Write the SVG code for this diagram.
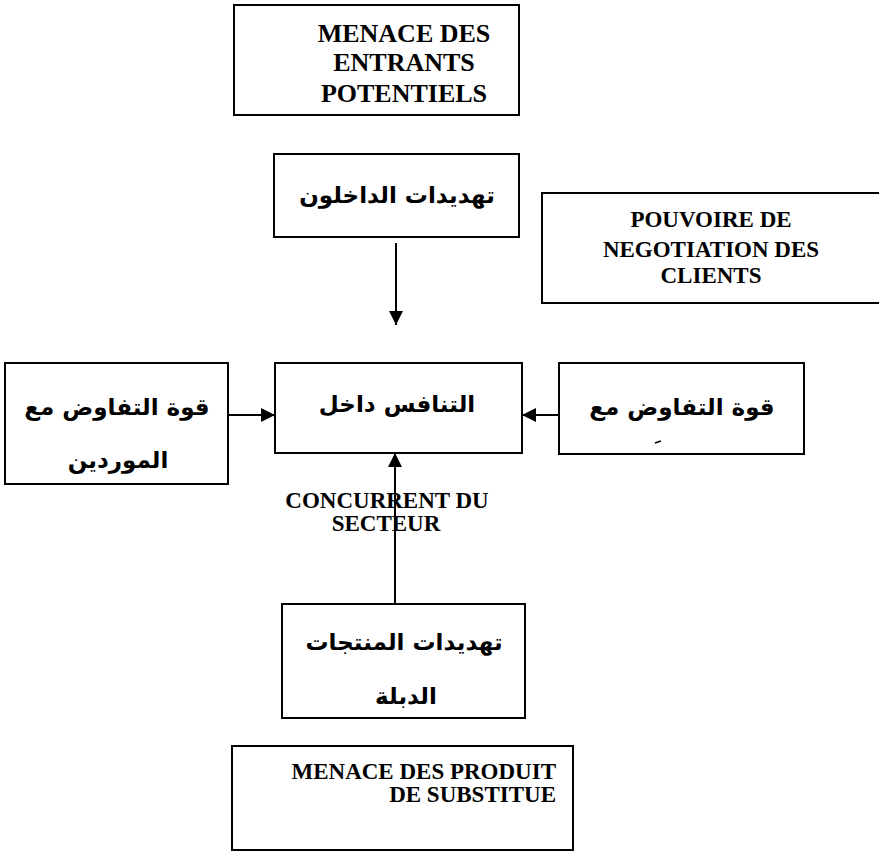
<svg xmlns="http://www.w3.org/2000/svg" width="879" height="854" viewBox="0 0 879 854">
<style>
.box{fill:#fff;stroke:#000;stroke-width:2}
.fr{font-family:"Liberation Serif","Times New Roman",serif;font-weight:bold;fill:#000}
.ar{font-family:"DejaVu Sans",sans-serif;font-weight:bold;fill:#000;text-anchor:middle;font-size:23px}
.ln{stroke:#000;stroke-width:2;fill:none}
</style>
<defs>
<marker id="ah" viewBox="0 0 14 14" refX="14" refY="7" markerWidth="14" markerHeight="14" markerUnits="userSpaceOnUse" orient="auto">
<path d="M0,0 L14,7 L0,14 Z" fill="#000"/>
</marker>
</defs>
<rect width="879" height="854" fill="#fff"/>
<g id="entrants">
<rect class="box" x="234" y="5" width="285" height="110"/>
<text class="fr" font-size="26" text-anchor="middle" x="404" y="42">MENACE DES</text>
<text class="fr" font-size="26" text-anchor="middle" x="404" y="71">ENTRANTS</text>
<text class="fr" font-size="26" text-anchor="middle" x="404" y="102">POTENTIELS</text>
</g>
<g id="dakhiloun">
<rect class="box" x="274" y="154" width="245" height="83"/>
<text class="ar" x="397" y="203">تهديدات الداخلون</text>
</g>
<g id="clients">
<rect class="box" x="542" y="193" width="350" height="110"/>
<text class="fr" font-size="23" text-anchor="middle" x="711" y="227">POUVOIRE DE</text>
<text class="fr" font-size="23" text-anchor="middle" x="711" y="257">NEGOTIATION DES</text>
<text class="fr" font-size="23" text-anchor="middle" x="711" y="283">CLIENTS</text>
</g>
<g id="fournisseurs">
<rect class="box" x="5" y="363" width="223" height="121"/>
<text class="ar" x="117" y="415">قوة التفاوض مع</text>
<text class="ar" x="118" y="468">الموردين</text>
</g>
<g id="concurrence">
<rect class="box" x="275" y="363" width="247" height="90"/>
<text class="ar" x="397" y="412">التنافس داخل</text>
</g>
<g id="clients-ar">
<rect class="box" x="559" y="363" width="245" height="91"/>
<text class="ar" x="682" y="415">قوة التفاوض مع</text>
<line x1="655" y1="443" x2="661" y2="441" stroke="#000" stroke-width="1.5"/>
</g>
<g id="secteur">
<text class="fr" font-size="23" text-anchor="middle" x="387" y="508">CONCURRENT DU</text>
<text class="fr" font-size="23" text-anchor="middle" x="386" y="531">SECTEUR</text>
</g>
<g id="substituts-ar">
<rect class="box" x="282" y="604" width="243" height="114"/>
<text class="ar" x="404" y="650">تهديدات المنتجات</text>
<text class="ar" x="406" y="704">الدبلة</text>
</g>
<g id="substituts">
<rect class="box" x="232" y="746" width="341" height="104"/>
<text class="fr" font-size="23" text-anchor="end" x="556" y="779">MENACE DES PRODUIT</text>
<text class="fr" font-size="23" text-anchor="end" x="556" y="802">DE SUBSTITUE</text>
</g>
<g id="connectors">
<line class="ln" x1="396" y1="243" x2="396" y2="325" marker-end="url(#ah)"/>
<line class="ln" x1="228" y1="415" x2="275" y2="415" marker-end="url(#ah)"/>
<line class="ln" x1="559" y1="415" x2="522" y2="415" marker-end="url(#ah)"/>
<line class="ln" x1="395" y1="604" x2="395" y2="453" marker-end="url(#ah)"/>
</g>
</svg>
